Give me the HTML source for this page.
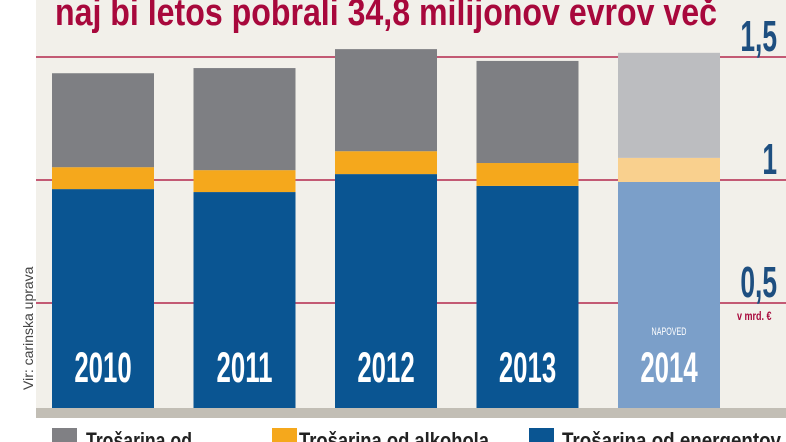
<!DOCTYPE html>
<html><head><meta charset="utf-8"><style>
body{margin:0;width:786px;height:442px;overflow:hidden;background:#fff;font-family:"Liberation Sans",sans-serif}
svg{display:block}
</style></head><body>
<svg width="786" height="442" viewBox="0 0 786 442">
<rect x="36" y="0" width="750" height="408" fill="#f2f0ea"/>
<text x="0" y="0" font-size="38" font-weight="bold" fill="#a8083c" textLength="662" lengthAdjust="spacingAndGlyphs" transform="translate(55 25)">naj bi letos pobrali 34,8 milijonov evrov več</text>
<g id="grid"></g>
<g id="bars"></g>
<rect x="36" y="408" width="750" height="10" fill="#c2beb5"/>
<g id="ylabels"></g>
<text x="0" y="0" font-size="12" font-weight="bold" fill="#a8083c" transform="translate(737 320) scale(0.75 1)">v mrd. €</text>
<text transform="translate(33 390) rotate(-90)" font-size="14" fill="#444">Vir: carinska uprava</text>
<g>
<rect x="52" y="428" width="25" height="16" fill="#808084"/>
<text x="86" y="448" font-size="22" font-weight="bold" fill="#222" textLength="106" lengthAdjust="spacingAndGlyphs">Trošarina od</text>
<rect x="272" y="428" width="25" height="16" fill="#f5a81c"/>
<text x="299" y="448" font-size="22" font-weight="bold" fill="#222" textLength="190" lengthAdjust="spacingAndGlyphs">Trošarina od alkohola</text>
<rect x="529" y="428" width="25" height="16" fill="#0a5592"/>
<text x="562" y="448" font-size="22" font-weight="bold" fill="#222" textLength="219" lengthAdjust="spacingAndGlyphs">Trošarina od energentov</text>
</g>
</svg>
<script>
const years=["2010","2011","2012","2013","2014"];
const energy=[0.963,0.951,1.024,0.976,0.992];
const alcohol=[0.089,0.089,0.093,0.093,0.098];
const tobacco=[0.382,0.415,0.415,0.415,0.427];
const ticks=[0.5,1,1.5];
const tickLabels=["0,5","1","1,5"];
const NS="http://www.w3.org/2000/svg";
const y=v=>426-246*v;
const x=i=>52+i*141.5;
const bw=102;
function mk(tag,attrs,parent){const e=document.createElementNS(NS,tag);for(const k in attrs)e.setAttribute(k,attrs[k]);parent.appendChild(e);return e;}
const grid=document.getElementById('grid'),bars=document.getElementById('bars'),yl=document.getElementById('ylabels');
ticks.forEach((t,i)=>{
 const l=mk('line',{x1:36,x2:786,y1:y(t),y2:y(t),stroke:'#b3284c','stroke-width':1.6},grid);
 
 
 const tx=mk('text',{x:0,y:0,'text-anchor':'end','font-size':44,'font-weight':'bold',fill:'#1e4f80',transform:'translate(777 '+(y(t)-6)+') scale(0.6 1)'},yl);
 tx.textContent=tickLabels[i];
 
 
});
years.forEach((yr,i)=>{
 const f=i===4;
 const c=f?['#7b9fc9','#f9d08e','#bcbdc0']:['#0a5592','#f5a81c','#7e7f83'];
 const vals=[energy[i],alcohol[i],tobacco[i]];
 const names=['energy','alcohol','tobacco'];
 let base=0;
 vals.forEach((v,k)=>{
  const top=y(base+v),bot=Math.min(y(base),408);
  const r=mk('rect',{x:x(i),y:top,width:bw,height:bot-top,fill:c[k]},bars);
  
  
  base+=v;
 });
 const t=mk('text',{x:0,y:0,'text-anchor':'middle','font-size':43,'font-weight':'bold',fill:'#fff',transform:'translate('+(x(i)+bw/2)+' 382) scale(0.6 1)'},bars);
 t.textContent=yr;
 
 
});
const n=mk('text',{x:0,y:0,'text-anchor':'middle','font-size':11,fill:'#fff',transform:'translate('+(x(4)+bw/2)+' 335) scale(0.65 1)'},bars);
n.textContent='NAPOVED';


</script>
</body></html>
